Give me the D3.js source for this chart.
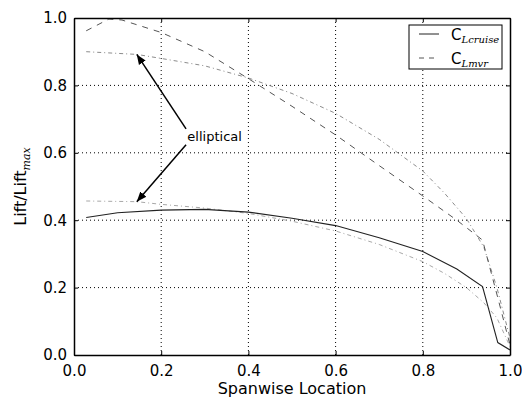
<!DOCTYPE html>
<html>
<head>
<meta charset="utf-8">
<script src="https://cdn.jsdelivr.net/npm/d3@7"></script>
<style>
  body { margin: 0; background: #fff; }
  svg text { font-family: "DejaVu Sans", sans-serif; }
</style>
</head>
<body>
<svg id="chart"></svg>
<script>
// spanwise stations
var spanCruise = [0.028, 0.1, 0.2, 0.3, 0.4, 0.5, 0.6, 0.7, 0.8, 0.878, 0.937, 0.972, 1.0];
var liftCruise = [0.408, 0.422, 0.43, 0.432, 0.424, 0.406, 0.384, 0.348, 0.307, 0.255, 0.203, 0.037, 0.015];

var spanMvr = [0.028, 0.08, 0.11, 0.2, 0.3, 0.4, 0.5, 0.6, 0.7, 0.8, 0.878, 0.937, 0.972, 1.0];
var liftMvr = [0.962, 0.997, 0.994, 0.957, 0.9, 0.82, 0.738, 0.653, 0.562, 0.472, 0.4, 0.341, 0.17, 0.03];

var spanEll = [0.028, 0.144, 0.2, 0.3, 0.4, 0.5, 0.6, 0.7, 0.8, 0.85, 0.9, 0.94, 0.97, 1.0];
var liftEllMvr = [0.9, 0.892, 0.88, 0.858, 0.822, 0.776, 0.717, 0.64, 0.546, 0.48, 0.405, 0.32, 0.2, 0.05];
var liftEllCruise = [0.457, 0.455, 0.447, 0.436, 0.42, 0.397, 0.368, 0.328, 0.277, 0.242, 0.2, 0.155, 0.11, 0.025];

var xTicks = [0.0, 0.2, 0.4, 0.6, 0.8, 1.0];
var yTicks = [0.0, 0.2, 0.4, 0.6, 0.8, 1.0];

var width = 522, height = 403;
var margin = { top: 18, right: 12, bottom: 48, left: 74 };

var svg = d3.select("#chart")
    .attr("width", width)
    .attr("height", height);

var x = d3.scaleLinear().domain([0, 1]).range([margin.left, width - margin.right]);
var y = d3.scaleLinear().domain([0, 1]).range([height - margin.bottom, margin.top]);

// grid
svg.append("g").selectAll("line")
    .data(xTicks.slice(1, -1))
    .enter().append("line")
    .attr("x1", d => x(d)).attr("x2", d => x(d))
    .attr("y1", y(0)).attr("y2", y(1))
    .attr("stroke", "#000").attr("stroke-width", 1)
    .attr("stroke-dasharray", "1,3");
svg.append("g").selectAll("line")
    .data(yTicks.slice(1, -1))
    .enter().append("line")
    .attr("x1", x(0)).attr("x2", x(1))
    .attr("y1", d => y(d)).attr("y2", d => y(d))
    .attr("stroke", "#000").attr("stroke-width", 1)
    .attr("stroke-dasharray", "1,3");

function makeLine(xs, ys) {
    return d3.line()
        .x((d, i) => x(xs[i]))
        .y((d, i) => y(ys[i]))(ys);
}

svg.append("clipPath").attr("id", "plotclip")
    .append("rect")
    .attr("x", x(0)).attr("y", y(1))
    .attr("width", x(1) - x(0)).attr("height", y(0) - y(1));

var plot = svg.append("g").attr("clip-path", "url(#plotclip)");

plot.append("path")
    .attr("d", makeLine(spanEll, liftEllMvr))
    .attr("fill", "none").attr("stroke", "#8c8c8c").attr("stroke-width", 1)
    .attr("stroke-dasharray", "4,3,1,3");
plot.append("path")
    .attr("d", makeLine(spanEll, liftEllCruise))
    .attr("fill", "none").attr("stroke", "#a8a8a8").attr("stroke-width", 1)
    .attr("stroke-dasharray", "4,3,1,3");
plot.append("path")
    .attr("d", makeLine(spanMvr, liftMvr))
    .attr("fill", "none").attr("stroke", "#555").attr("stroke-width", 1)
    .attr("stroke-dasharray", "6,6");
plot.append("path")
    .attr("d", makeLine(spanCruise, liftCruise))
    .attr("fill", "none").attr("stroke", "#222").attr("stroke-width", 1.1);

// axes (frame with inward ticks)
var axisBottomG = svg.append("g")
    .attr("transform", "translate(0," + y(0) + ")")
    .call(d3.axisBottom(x).tickValues(xTicks).tickFormat(d3.format(".1f")).tickSizeInner(-4).tickSizeOuter(0).tickPadding(10));
var axisLeftG = svg.append("g")
    .attr("transform", "translate(" + x(0) + ",0)")
    .call(d3.axisLeft(y).tickValues(yTicks).tickFormat(d3.format(".1f")).tickSizeInner(-4).tickSizeOuter(0).tickPadding(7));
var axisTopG = svg.append("g")
    .attr("transform", "translate(0," + y(1) + ")")
    .call(d3.axisTop(x).tickValues(xTicks).tickFormat("").tickSizeInner(-4).tickSizeOuter(0));
var axisRightG = svg.append("g")
    .attr("transform", "translate(" + x(1) + ",0)")
    .call(d3.axisRight(y).tickValues(yTicks).tickFormat("").tickSizeInner(-4).tickSizeOuter(0));

[axisBottomG, axisLeftG, axisTopG, axisRightG].forEach(function (g) {
    g.select(".domain").attr("stroke", "#000").attr("stroke-width", 1.5);
    g.selectAll(".tick line").attr("stroke", "#000");
    g.selectAll(".tick text")
        .attr("fill", "#000")
        .style("font-size", "15px")
        .style("font-family", "DejaVu Sans");
});

// axis labels
svg.append("text")
    .attr("x", (x(0) + x(1)) / 2)
    .attr("y", 394)
    .attr("text-anchor", "middle")
    .style("font-size", "16px")
    .text("Spanwise Location");

var ylab = svg.append("text")
    .attr("transform", "translate(26," + ((y(0) + y(1)) / 2) + ") rotate(-90)")
    .attr("text-anchor", "middle")
    .style("font-size", "16px");
ylab.append("tspan").text("Lift/Lift");
ylab.append("tspan")
    .attr("dy", 4)
    .style("font-family", "DejaVu Serif")
    .style("font-style", "italic")
    .style("font-size", "11px")
    .text("max");

// annotation
var defs = svg.append("defs");
defs.append("marker")
    .attr("id", "arrowhead")
    .attr("viewBox", "0 0 10 10")
    .attr("refX", 10).attr("refY", 5)
    .attr("markerWidth", 10).attr("markerHeight", 10)
    .attr("markerUnits", "userSpaceOnUse")
    .attr("orient", "auto")
    .append("path")
    .attr("d", "M0,1 L10,5 L0,9 Z")
    .attr("fill", "#000");

var labelX = 0.26, labelY = 0.648;
var arrows = [
    { from: [0.257, 0.671], to: [spanEll[1], liftEllMvr[1]] },
    { from: [0.257, 0.624], to: [spanEll[1], liftEllCruise[1]] }
];
svg.append("g").selectAll("line")
    .data(arrows)
    .enter().append("line")
    .attr("x1", d => x(d.from[0])).attr("y1", d => y(d.from[1]))
    .attr("x2", d => x(d.to[0])).attr("y2", d => y(d.to[1]))
    .attr("stroke", "#000").attr("stroke-width", 1.5)
    .attr("marker-end", "url(#arrowhead)");

svg.append("text")
    .attr("x", x(labelX))
    .attr("y", y(labelY))
    .attr("dy", "0.35em")
    .style("font-size", "13px")
    .text("elliptical");

// legend
var legend = svg.append("g");
legend.append("rect")
    .attr("x", 409).attr("y", 25)
    .attr("width", 93).attr("height", 44)
    .attr("fill", "#fff").attr("stroke", "#000").attr("stroke-width", 1);

var legendItems = [
    { sub: "Lcruise", dash: null, color: "#222" },
    { sub: "Lmvr", dash: "5,5", color: "#555" }
];
legendItems.forEach(function (d, i) {
    var ly = 34 + i * 24;
    legend.append("line")
        .attr("x1", 419).attr("x2", 439)
        .attr("y1", ly).attr("y2", ly)
        .attr("stroke", d.color).attr("stroke-width", 1)
        .attr("stroke-dasharray", d.dash);
    var t = legend.append("text")
        .attr("x", 451).attr("y", ly + 6)
        .style("font-size", "15px");
    t.append("tspan").text("C");
    t.append("tspan")
        .attr("dy", 3)
        .style("font-family", "DejaVu Serif")
        .style("font-style", "italic")
        .style("font-size", "10px")
        .text(d.sub);
});
</script>
</body>
</html>
